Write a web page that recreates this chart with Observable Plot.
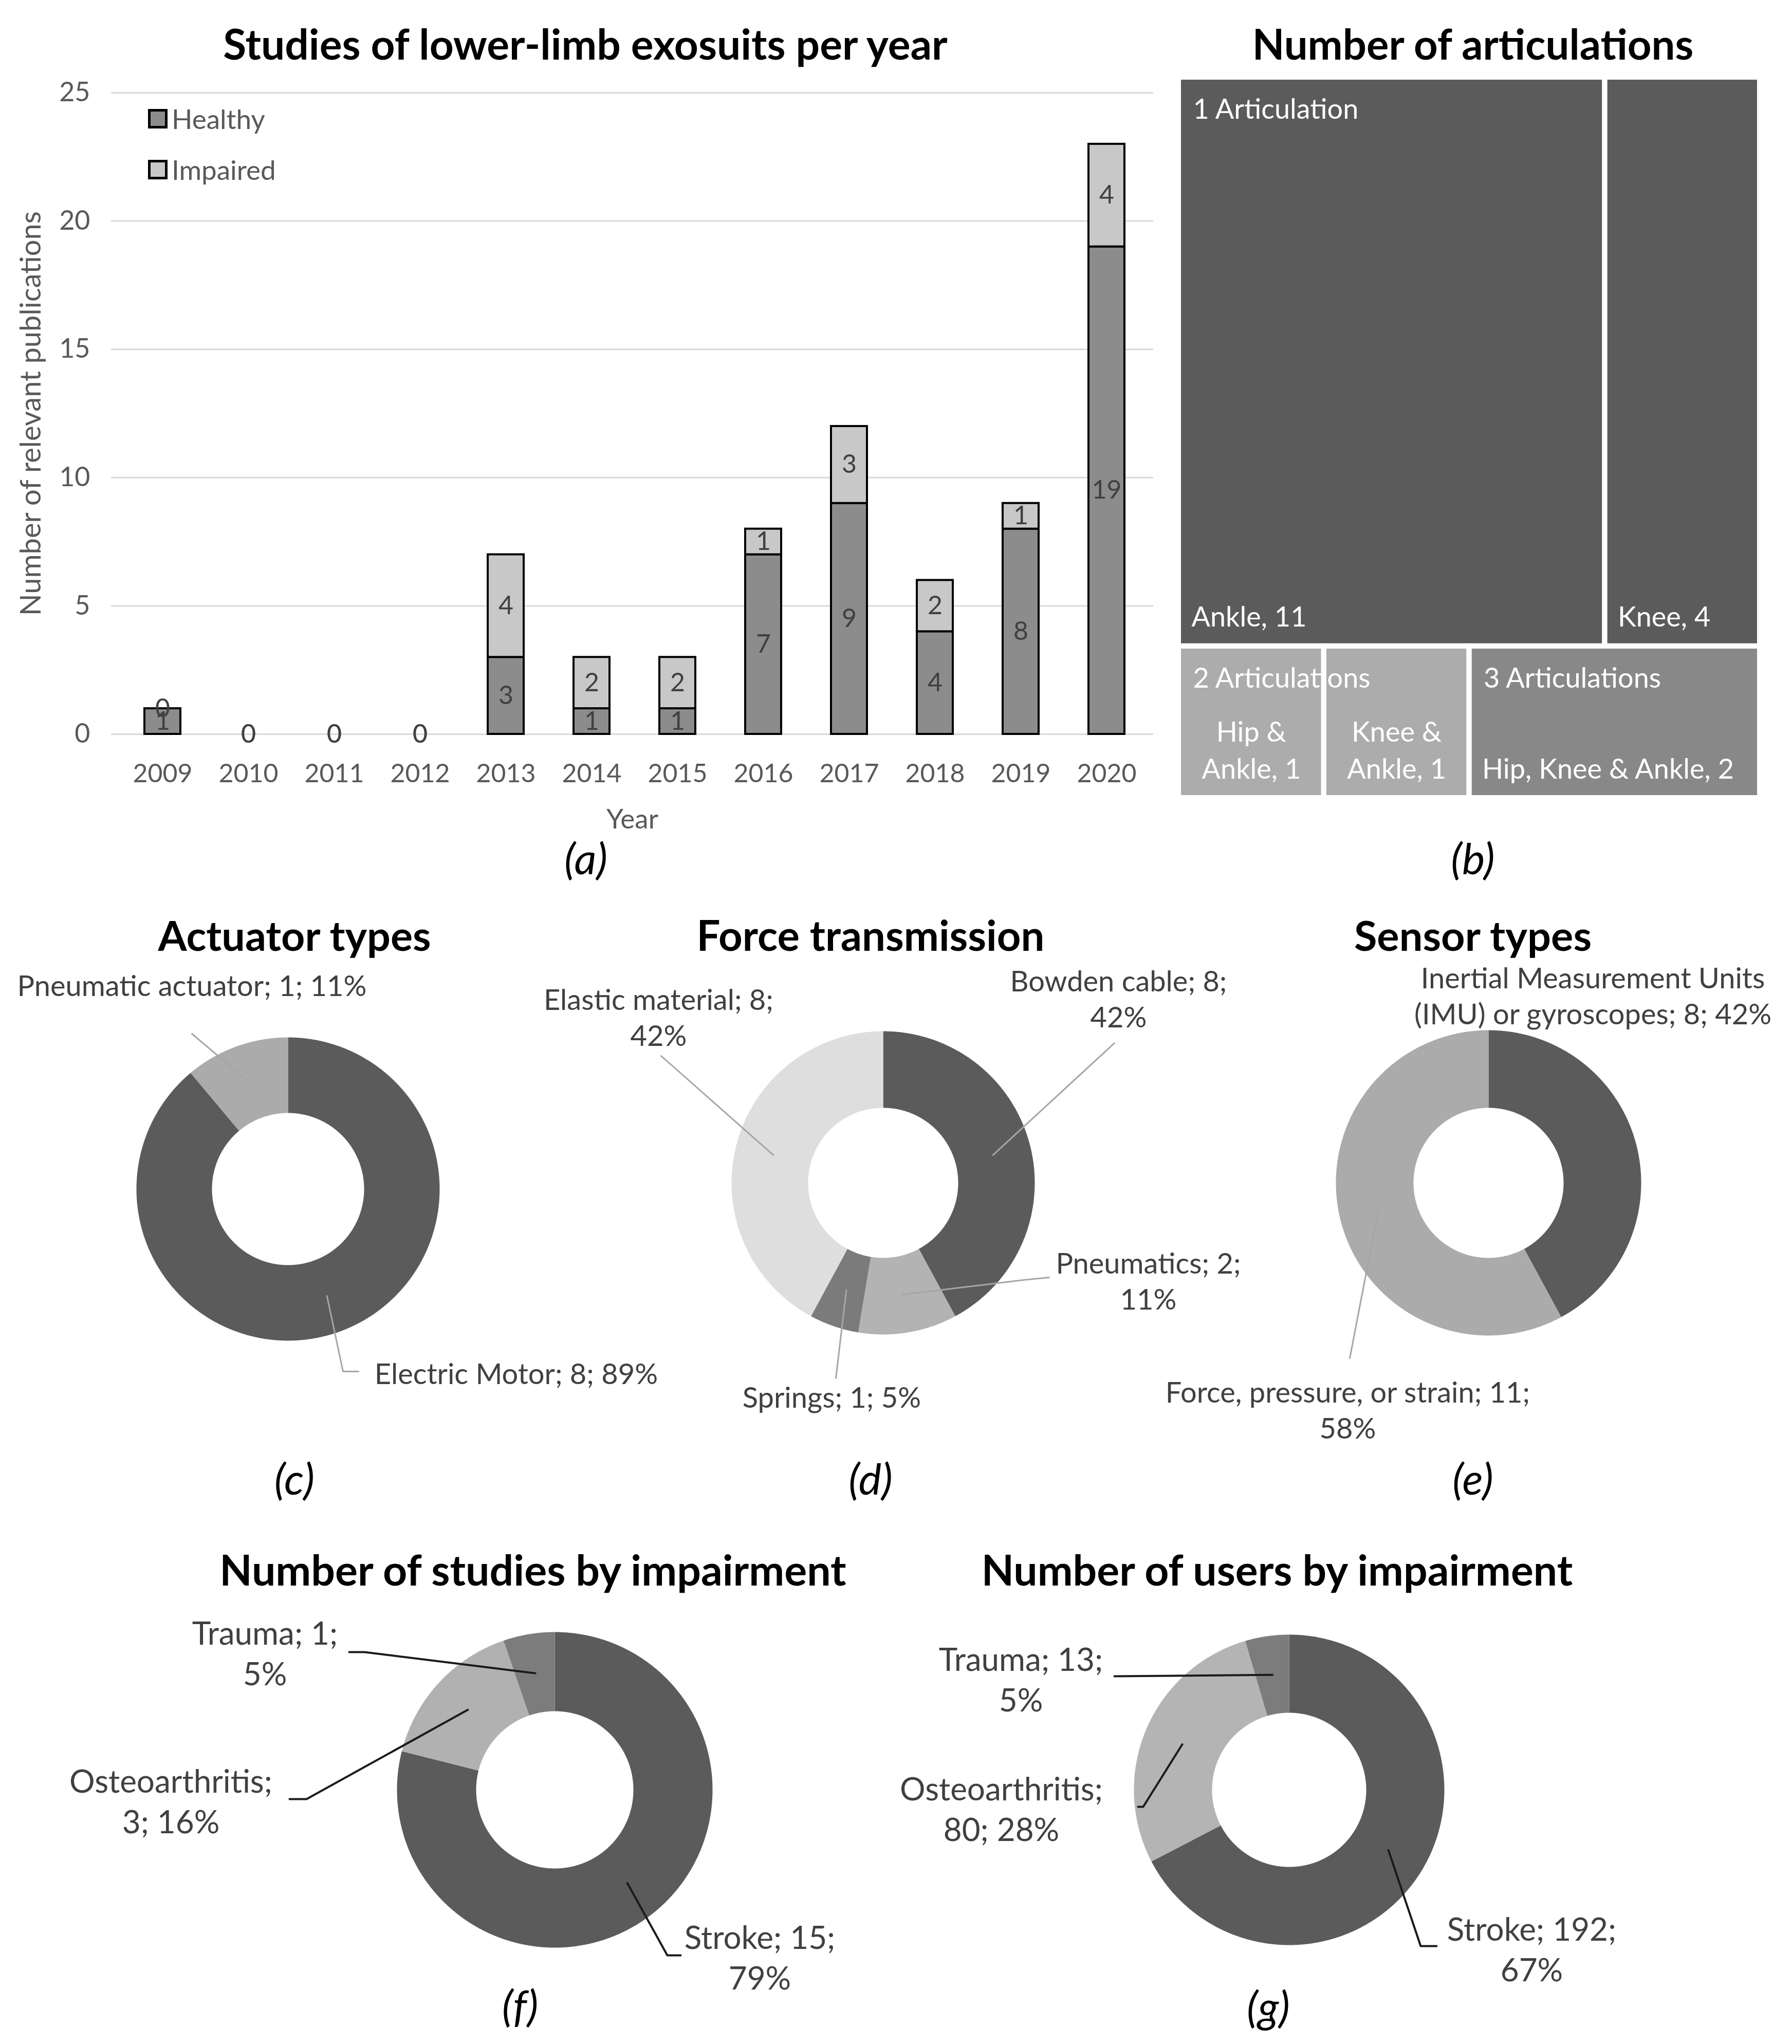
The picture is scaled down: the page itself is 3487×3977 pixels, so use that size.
<!DOCTYPE html>
<html>
<head>
<meta charset="utf-8">
<script src="https://cdn.jsdelivr.net/npm/d3@7"></script>
<script src="https://cdn.jsdelivr.net/npm/@observablehq/plot@0.6"></script>
<style>
html,body{margin:0;padding:0;background:#fff;overflow:hidden}
#root{position:relative;width:3487px;height:3977px;background:#fff;font-family:Lato,"Open Sans",sans-serif}
.pane{position:absolute}
.txt{position:absolute;white-space:nowrap;line-height:1;transform:translate(-50%,-50%)}
.leg{position:absolute;display:flex;align-items:center;font:53px Lato;color:#595959;line-height:1}
.leg span.sw{display:inline-block;width:28px;height:28px;border:5px solid #000;margin-right:8px}
</style>
</head>
<body>
<div id="root">
  <div id="bar" class="pane" style="left:0;top:130px"></div>
  <div id="tree" class="pane" style="left:2280px;top:140px"></div>
  <div id="lower" class="pane" style="left:0;top:1720px"></div>
</div>
<script>
// ---------------- DATA ----------------
const years = ["2009","2010","2011","2012","2013","2014","2015","2016","2017","2018","2019","2020"];
const healthyStudies  = [1,0,0,0,3,1,1,7,9,4,8,19];
const impairedStudies = [0,0,0,0,4,2,2,1,3,2,1,4];
const studyGroups = ["Healthy","Impaired"];
const yTicks = [0,5,10,15,20,25];

const articulationGroups = ["1 Articulation","1 Articulation","2 Articulations","2 Articulations","3 Articulations"];
const articulationJoints = ["Ankle","Knee","Hip & Ankle","Knee & Ankle","Hip, Knee & Ankle"];
const articulationCounts = [11,4,1,1,2];

const actuatorTypes = ["Electric Motor","Pneumatic actuator"];
const actuatorCounts = [8,1];
const transmissionTypes = ["Bowden cable","Pneumatics","Springs","Elastic material"];
const transmissionCounts = [8,2,1,8];
const sensorTypes = ["Inertial Measurement Units (IMU) or gyroscopes","Force, pressure, or strain"];
const sensorCounts = [8,11];
const impairmentTypes = ["Stroke","Osteoarthritis","Trauma"];
const studiesByImpairment = [15,3,1];
const usersByImpairment = [192,80,13];

// ---------------- STYLES / LAYOUT ----------------
const FONT = "Lato";
const barColors = ["#8c8c8c","#c8c8c8"];
const treeColors = ["#5b5b5b","#acacac","#888888"];
const OY = 1720; // top of the lower panel

const titles = [
  {text:"Studies of lower-limb exosuits per year", x:1139, y:84, w:1415},
  {text:"Number of articulations", x:2866, y:84, w:862},
  {text:"Actuator types", x:573, y:1818, w:533},
  {text:"Force transmission", x:1694, y:1818, w:677},
  {text:"Sensor types", x:2866, y:1818, w:464},
  {text:"Number of studies by impairment", x:1037, y:3053, w:1225},
  {text:"Number of users by impairment", x:2485, y:3053, w:1156}
];
const captions = [
  {text:"(a)", x:1140, y:1668},{text:"(b)", x:2866, y:1668},
  {text:"(c)", x:573, y:2875},{text:"(d)", x:1694, y:2875},{text:"(e)", x:2866, y:2875},
  {text:"(f)", x:1012, y:3900},{text:"(g)", x:2468, y:3902}
];

const donutSpecs = [
  {names:actuatorTypes, counts:actuatorCounts, colors:["#5b5b5b","#ababab"],
   cx:560, cy:2313, R:295, r:148, fs:56, lh:1.25, lc:"#a6a6a6", lw:3,
   labels:[{x:1004,y:2670,br:-1,path:[[697,2668],[667,2668]]},
           {x:373,y:1915,br:-1,path:[[373,2011]]}]},
  {names:transmissionTypes, counts:transmissionCounts, colors:["#5b5b5b","#b3b3b3","#7b7b7b","#dedede"],
   cx:1718, cy:2301, R:295, r:146, fs:56, lh:1.25, lc:"#a6a6a6", lw:3,
   labels:[{x:2176,y:1941,br:1,path:[[2168,2029]]},
           {x:2234,y:2490,br:1,path:[[2041,2485],[1991,2490]]},
           {x:1618,y:2716,br:-1,path:[[1626,2681]]},
           {x:1281,y:1977,br:1,path:[[1286,2054]]}]},
  {names:sensorTypes, counts:sensorCounts, colors:["#5b5b5b","#ababab"],
   cx:2896, cy:2301, R:297, r:146, fs:56, lh:1.25, lc:"#a6a6a6", lw:3,
   labels:[{x:3099,y:1935,br:-1,nameBreak:3,path:null},
           {x:2622,y:2741,br:1,path:[[2626,2642]]}]},
  {names:impairmentTypes, counts:studiesByImpairment, colors:["#5b5b5b","#b1b1b1","#7c7c7c"],
   cx:1079, cy:3482, R:307, r:153, fs:62, lh:1.27, lc:"#1a1a1a", lw:4,
   labels:[{x:1478,y:3806,br:1,path:[[1324,3804],[1298,3804]]},
           {x:332,y:3502,br:0,path:[[563,3500],[596,3500]]},
           {x:515,y:3214,br:1,path:[[679,3214],[709,3214]]}]},
  {names:impairmentTypes, counts:usersByImpairment, colors:["#5b5b5b","#b4b4b4","#7c7c7c"],
   cx:2508, cy:3482, R:302, r:150, fs:62, lh:1.27, lc:"#1a1a1a", lw:4,
   labels:[{x:2980,y:3790,br:1,path:[[2795,3786],[2764,3786]]},
           {x:1948,y:3517,br:0,path:[[2214,3515],[2224,3515]]},
           {x:1986,y:3265,br:1,path:[[2168,3261]]}]}
];

const root = document.getElementById("root");
const baseStyle = {background:"transparent", fontFamily:FONT, overflow:"visible", color:"#595959"};

// ---------------- TITLES / CAPTIONS ----------------
const ctx = document.createElement("canvas").getContext("2d");
for (const t of titles) {
  ctx.font = `bold 100px ${FONT}`;
  const size = 100 * t.w / ctx.measureText(t.text).width;
  const d = document.createElement("div");
  d.className = "txt";
  d.textContent = t.text;
  d.style.cssText += `left:${t.x}px;top:${t.y}px;font:bold ${size}px ${FONT};color:#000;`;
  root.appendChild(d);
}
for (const c of captions) {
  const d = document.createElement("div");
  d.className = "txt";
  d.textContent = c.text;
  d.style.cssText += `left:${c.x}px;top:${c.y}px;font:italic 84px ${FONT};color:#000;`;
  root.appendChild(d);
}
// legend for panel (a)
studyGroups.forEach((g, i) => {
  const d = document.createElement("div");
  d.className = "leg";
  d.style.left = "288px";
  d.style.top = (231 + i * 99 - 27) + "px";
  d.innerHTML = `<span class="sw" style="background:${barColors[i]}"></span>${g}`;
  root.appendChild(d);
});

// ---------------- (a) BAR CHART ----------------
const studyTable = years.flatMap((yr, i) => [
  {year: yr, status: studyGroups[0], count: healthyStudies[i]},
  {year: yr, status: studyGroups[1], count: impairedStudies[i]}
]);
const barPlot = Plot.plot({
  width: 2260, height: 1530,
  marginTop: 50, marginBottom: 232, marginLeft: 216, marginRight: 16,
  style: {...baseStyle, fontSize: "50px"},
  x: {type: "band", domain: years, paddingInner: 0.58, paddingOuter: 0.29, insetLeft: 12, insetRight: 2},
  y: {domain: [0, 25]},
  color: {domain: studyGroups, range: barColors},
  marks: [
    Plot.gridY({ticks: yTicks, stroke: "#d9d9d9", strokeOpacity: 1, strokeWidth: 3}),
    Plot.axisY({ticks: yTicks, tickSize: 0, tickPadding: 41, fontSize: 52, label: null}),
    Plot.axisX({tickSize: 0, tickPadding: 58, fontSize: 50, label: null}),
    Plot.barY(studyTable, {x: "year", y: "count", fill: "status", stroke: "#000", strokeWidth: 4}),
    Plot.text(studyTable, Plot.stackY({x: "year", y: "count", z: "status", text: d => String(d.count), fill: "#404040", fontSize: 50})),
    Plot.text(["Number of relevant publications"], {frameAnchor: "left", textAnchor: "middle", rotate: -90, dx: -155, fontSize: 56, fill: "#595959"}),
    Plot.text(["Year"], {frameAnchor: "bottom", textAnchor: "middle", dy: 183, fontSize: 53, fill: "#595959"})
  ]
});
document.getElementById("bar").appendChild(barPlot);

// ---------------- (b) TREEMAP ----------------
const artItems = articulationJoints.map((j, i) => ({group: articulationGroups[i], name: j, value: articulationCounts[i]}));
const artRoot = {name: "root", children: Array.from(d3.group(artItems, d => d.group), ([g, items]) => ({name: g, children: items}))};
const TX = 13, TY = 10;
const hier = d3.hierarchy(artRoot).sum(d => d.value || 0);
d3.treemap().tile(d3.treemapSquarify).size([1131, 1402])(hier);
const groupNames = hier.children.map(n => n.data.name);
const leaves = hier.leaves().map(n => ({
  group: n.parent.data.name, name: n.data.name, value: n.value,
  x0: n.x0 + TX, x1: n.x1 + TX, y0: n.y0 + TY, y1: n.y1 + TY
}));
const groupsT = hier.children.map(n => ({name: n.data.name, x0: n.x0 + TX, y0: n.y0 + TY}));
ctx.font = `54px ${FONT}`;
const narrow = d => ctx.measureText(`${d.name}, ${d.value}`).width > (d.x1 - d.x0) - 40;
const treePlot = Plot.plot({
  width: 1160, height: 1420, margin: 0,
  style: {...baseStyle, fontSize: "54px"},
  x: {type: "identity", axis: null}, y: {type: "identity", axis: null},
  color: {domain: groupNames, range: treeColors},
  marks: [
    Plot.rect(leaves, {x1: "x0", x2: "x1", y1: "y0", y2: "y1", fill: "group"}),
    Plot.text(groupsT, {x: d => d.x0 + 28, y: d => d.y0 + 63, text: "name", textAnchor: "start", fill: "#fff", fontSize: 54}),
    Plot.text(leaves.filter(d => !narrow(d)), {x: d => d.x0 + 25, y: d => d.y1 - 38, text: d => `${d.name}, ${d.value}`, textAnchor: "start", lineAnchor: "bottom", fill: "#fff", fontSize: 54}),
    Plot.text(leaves.filter(narrow), {x: d => (d.x0 + d.x1) / 2, y: d => d.y1 - 38, text: d => `${d.name.replace(" & ", " &\n")}, ${d.value}`, textAnchor: "middle", lineAnchor: "bottom", lineHeight: 1.32, fill: "#fff", fontSize: 54}),
    Plot.rect(leaves, {x1: "x0", x2: "x1", y1: "y0", y2: "y1", fill: "none", stroke: "#fff", strokeWidth: 10})
  ]
});
document.getElementById("tree").appendChild(treePlot);

// ---------------- (c)-(g) DONUTS ----------------
function sliceLabel(name, count, pct, lay) {
  let nm = name;
  if (lay.nameBreak) {
    const w = name.split(" ");
    nm = w.slice(0, lay.nameBreak).join(" ") + "\n" + w.slice(lay.nameBreak).join(" ");
  }
  return nm + (lay.br === 0 ? ";\n" : "; ") + count + (lay.br === 1 ? ";\n" : "; ") + pct + "%";
}
const polys = [], leaders = [], labelRows = [];
donutSpecs.forEach((s, di) => {
  const total = d3.sum(s.counts);
  const arcs = d3.pie().sort(null).value(d => d)(s.counts);
  arcs.forEach((a, i) => {
    const id = `${di}-${i}`;
    const n = Math.max(2, Math.ceil((a.endAngle - a.startAngle) / 0.005));
    const pts = [];
    for (let k = 0; k <= n; k++) {
      const t = a.startAngle + (a.endAngle - a.startAngle) * k / n;
      pts.push({id, color: s.colors[i], x: s.cx + s.R * Math.sin(t), y: s.cy - OY - s.R * Math.cos(t)});
    }
    for (let k = n; k >= 0; k--) {
      const t = a.startAngle + (a.endAngle - a.startAngle) * k / n;
      pts.push({id, color: s.colors[i], x: s.cx + s.r * Math.sin(t), y: s.cy - OY - s.r * Math.cos(t)});
    }
    polys.push(...pts);
    const lay = s.labels[i];
    const pct = Math.round(100 * s.counts[i] / total);
    labelRows.push({x: lay.x, y: lay.y - OY, text: sliceLabel(s.names[i], s.counts[i], pct, lay), fs: s.fs, lh: s.lh});
    if (lay.path) {
      const mid = (a.startAngle + a.endAngle) / 2, mr = (s.R + s.r) / 2;
      const line = lay.path.map(([px, py]) => ({id, x: px, y: py - OY, c: s.lc, w: s.lw}));
      line.push({id, x: s.cx + mr * Math.sin(mid), y: s.cy - OY - mr * Math.cos(mid), c: s.lc, w: s.lw});
      leaders.push(line);
    }
  });
});
const lowerMarks = [
  Plot.line(polys, {x: "x", y: "y", z: "id", fill: "color", stroke: "none"})
];
for (const l of leaders) {
  lowerMarks.push(Plot.line(l, {x: "x", y: "y", stroke: l[0].c, strokeWidth: l[0].w}));
}
for (const fs of [56, 62]) {
  const rows = labelRows.filter(d => d.fs === fs);
  lowerMarks.push(Plot.text(rows, {x: "x", y: "y", text: "text", fontSize: fs, lineHeight: rows[0].lh, textAnchor: "middle", lineAnchor: "middle", fill: "#404040"}));
}
const lowerPlot = Plot.plot({
  width: 3487, height: 2257, margin: 0,
  style: {...baseStyle, fontSize: "56px"},
  x: {type: "identity", axis: null}, y: {type: "identity", axis: null},
  color: {type: "identity"},
  marks: lowerMarks
});
document.getElementById("lower").appendChild(lowerPlot);
</script>
</body>
</html>
